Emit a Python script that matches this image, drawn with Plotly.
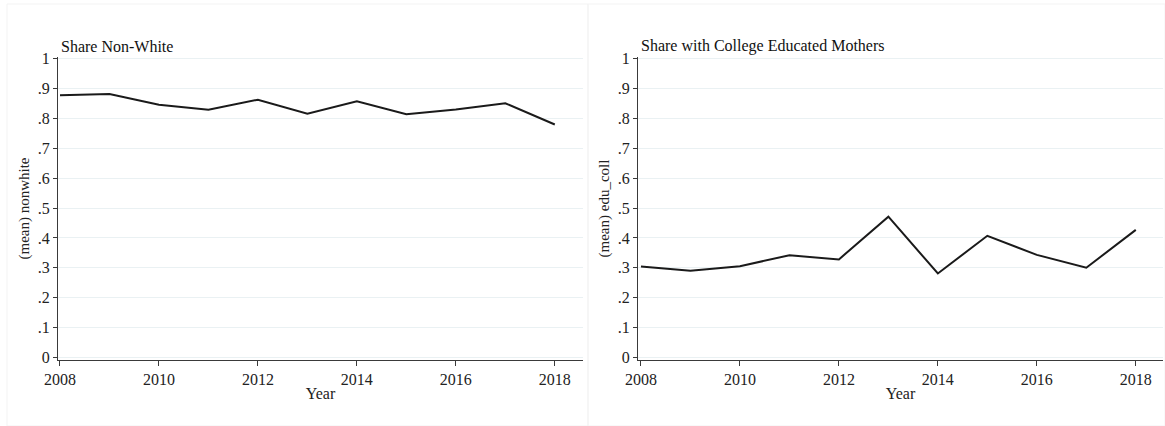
import plotly.graph_objects as go

# Yearly means for the two panels
years = [2008, 2009, 2010, 2011, 2012, 2013, 2014, 2015, 2016, 2017, 2018]
nonwhite = [0.878, 0.882, 0.846, 0.829, 0.863, 0.816, 0.858, 0.814, 0.830, 0.851, 0.780]
edu_coll = [0.304, 0.290, 0.305, 0.342, 0.328, 0.471, 0.281, 0.407, 0.343, 0.300, 0.427]

panel_titles = ["Share Non-White", "Share with College Educated Mothers"]
y_titles = ["(mean) nonwhite", "(mean) edu_coll"]
y_tickvals = [0, 0.1, 0.2, 0.3, 0.4, 0.5, 0.6, 0.7, 0.8, 0.9, 1]
y_ticktext = ["0", ".1", ".2", ".3", ".4", ".5", ".6", ".7", ".8", ".9", "1"]
x_tickvals = [2008, 2010, 2012, 2014, 2016, 2018]

W, H = 1165, 426
FONT = "Liberation Serif, Times New Roman, serif"
GRID = "#eaf1f3"
AXIS = "#3a3a3a"

fig = go.Figure()

fig.add_trace(go.Scatter(x=years, y=nonwhite, mode="lines",
                         line=dict(color="#1a1a1a", width=2),
                         xaxis="x", yaxis="y", showlegend=False))
fig.add_trace(go.Scatter(x=years, y=edu_coll, mode="lines",
                         line=dict(color="#1a1a1a", width=2),
                         xaxis="x2", yaxis="y2", showlegend=False))

ydom = [1 - 360 / H, 1 - 57 / H]
xdoms = [[58 / W, 583 / W], [638 / W, 1163 / W]]
xranges = [[2007.96, 2018.57], [2007.94, 2018.55]]

def xaxis_cfg(dom, rng, anchor):
    return dict(domain=dom, range=rng, anchor=anchor, automargin=False,
                tickvals=x_tickvals, ticks="outside", ticklen=5,
                tickcolor=AXIS, showline=True, linecolor=AXIS, linewidth=1.3,
                showgrid=False, zeroline=False,
                tickfont=dict(family=FONT, size=16, color="#222"),
                title=dict(text="Year", standoff=0,
                           font=dict(family=FONT, size=16, color="#222")))

def yaxis_cfg(title, anchor):
    return dict(domain=ydom, range=[-0.009, 1.006], anchor=anchor, automargin=False,
                tickvals=y_tickvals, ticktext=y_ticktext,
                ticks="outside", ticklen=4, tickcolor=AXIS,
                showline=True, linecolor=AXIS, linewidth=1.3,
                showgrid=True, gridcolor=GRID, gridwidth=1, zeroline=False,
                tickfont=dict(family=FONT, size=16, color="#222"),
                title=dict(text=title, standoff=4,
                           font=dict(family=FONT, size=15, color="#222")))

fig.update_layout(
    width=W, height=H,
    margin=dict(l=0, r=0, t=0, b=0),
    paper_bgcolor="white", plot_bgcolor="white",
    xaxis=xaxis_cfg(xdoms[0], xranges[0], "y"),
    yaxis=yaxis_cfg(y_titles[0], "x"),
    xaxis2=xaxis_cfg(xdoms[1], xranges[1], "y2"),
    yaxis2=yaxis_cfg(y_titles[1], "x2"),
)

# Panel titles
for dom, t in zip(xdoms, panel_titles):
    fig.add_annotation(text=t, xref="paper", yref="paper",
                       x=dom[0] + 1 / W, y=1 - 46 / H, xanchor="left", yanchor="middle",
                       showarrow=False, font=dict(family=FONT, size=16, color="#111"))

# Faint graph-region borders
for x0, x1 in [(7, 588), (588, 1165)]:
    fig.add_shape(type="rect", xref="paper", yref="paper",
                  x0=x0 / W, x1=x1 / W, y0=0, y1=1 - 4 / H,
                  line=dict(color="#f3f3f3", width=1), layer="below")

fig.write_html("out.html")
